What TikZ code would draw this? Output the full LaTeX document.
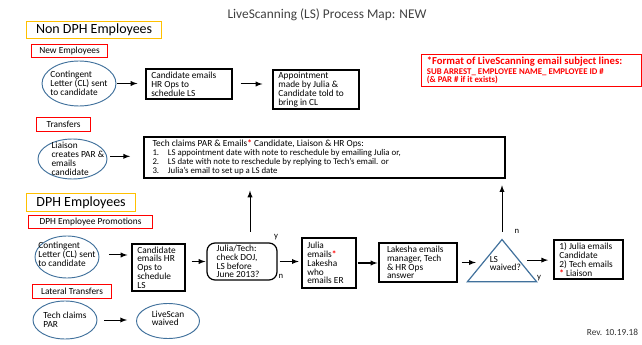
\documentclass[tikz,border=0pt]{standalone}
\usepackage{fontspec}
\setmainfont{Carlito}
\usepackage{xcolor}
\usetikzlibrary{arrows.meta, calc, shapes.geometric}
\definecolor{ovalBlue}{RGB}{65,113,156}
\definecolor{tagRed}{RGB}{255,0,0}
\definecolor{headGold}{RGB}{255,192,0}
\newcommand{\rstar}{\textcolor{tagRed}{\textbf{*}}}

\tikzset{
  txt/.style={font=\fontsize{7}{6.6}\selectfont, align=flush left},
  box/.style={draw, line width=0.9pt, txt, inner xsep=4pt, inner ysep=1pt},
  oval/.style={draw=ovalBlue, ellipse, line width=0.7pt, inner sep=0pt},
  tagbox/.style={draw=tagRed, line width=0.8pt, txt, inner xsep=4pt, inner ysep=0pt, anchor=north west},
  headbox/.style={draw=headGold, line width=0.9pt, font=\fontsize{10.5}{12}\selectfont, inner xsep=4pt, inner ysep=0pt, anchor=north west},
  arr/.style={-latex, line width=0.75pt},
  yn/.style={font=\fontsize{6.5}{7}\selectfont, inner sep=0pt},
}

\begin{document}
\begin{tikzpicture}[x=0.75pt, y=-0.75pt]
  \useasboundingbox (0,0) rectangle (642,345);

  \node[font=\fontsize{10}{11}\selectfont, text=black!75] (title) at (327,15) {LiveScanning (LS) Process Map: NEW};

  % Non DPH Employees
  \node[headbox, minimum width=101.25pt, minimum height=12.75pt] (nondph) at (26,21) {Non DPH Employees};
  \node[tagbox, minimum width=57pt, minimum height=9.75pt] (newemp) at (31,44) {New Employees};
  \node[oval, minimum width=55.5pt, minimum height=33.75pt,
    label={[txt]center:{Contingent\\Letter (CL) sent\\to candidate}}] (cl1) at (79,83.5) {};
  \node[box, minimum width=64.5pt, minimum height=22.5pt, text width=56.5pt] (cand1) at (189,84) {Candidate emails\\HR Ops to\\schedule LS};
  \node[box, minimum width=64.5pt, minimum height=29.25pt, text width=56.5pt] (appt) at (316,89.5) {Appointment\\made by Julia \&\\Candidate told to\\bring in CL};

  \node[draw=tagRed, line width=0.8pt, text=tagRed, align=flush left, anchor=north west, inner xsep=4pt, inner ysep=1pt,
    font=\fontsize{6.6}{6.2}\selectfont\bfseries,
    minimum width=165pt, minimum height=24pt, text width=157pt] (note) at (421,54)
    {{\fontsize{8}{8.5}\selectfont *Format of LiveScanning email subject lines:}\\[1.2pt]
     SUB ARREST\_ EMPLOYEE NAME\_ EMPLOYEE ID \#\\(\& PAR \# if it exists)};

  \node[tagbox, minimum width=40.5pt, minimum height=10.5pt] (trans) at (36,117) {Transfers};
  \node[oval, minimum width=51.75pt, minimum height=30pt,
    label={[txt, xshift=4pt]center:{Liaison\\creates PAR \&\\emails\\candidate}}] (liaison) at (72.5,159) {};
  \node[box, minimum width=270.75pt, minimum height=30.75pt, inner xsep=6pt, text width=258pt] (tech) at (324.5,157.5)
    {Tech claims PAR \& Emails\rstar{} Candidate, Liaison \& HR Ops:\\
     {\fontsize{6.6}{6.6}\selectfont
     \makebox[11.5pt][l]{1.}LS appointment date with note to reschedule by emailing Julia or,\\
     \makebox[11.5pt][l]{2.}LS date with note to reschedule by replying to Tech’s email. or\\
     \makebox[11.5pt][l]{3.}Julia’s email to set up a LS date}};

  % DPH Employees
  \node[headbox, minimum width=81.75pt, minimum height=13.5pt] (dph) at (26,193) {DPH Employees};
  \node[tagbox, minimum width=93pt, minimum height=9.75pt] (promo) at (28,215) {DPH Employee Promotions};
  \node[oval, minimum width=48pt, minimum height=31.5pt,
    label={[txt, yshift=2pt]center:{Contingent\\Letter (CL) sent\\to candidate}}] (cl2) at (67,257) {};
  \node[box, minimum width=39.75pt, minimum height=35.25pt, text width=31.75pt] (cand2) at (158.5,267.5) {Candidate\\emails HR\\Ops to\\schedule\\LS};
  \node[box, rounded corners=6pt, minimum width=52.5pt, minimum height=27.75pt, inner xsep=7pt, text width=38pt] (jt) at (242,261.5) {Julia/Tech:\\check DOJ,\\LS before\\June 2013?};
  \node[box, minimum width=40.5pt, minimum height=37.5pt, text width=32.5pt] (je) at (329,263) {Julia\\emails\rstar\\Lakesha\\who\\emails ER};
  \node[box, minimum width=58.5pt, minimum height=29.25pt, inner xsep=6pt, text width=46.5pt] (lak) at (418,262.5) {Lakesha emails\\manager, Tech\\\& HR Ops\\answer};
  \node[draw=ovalBlue, line width=0.9pt, isosceles triangle, shape border rotate=90, isosceles triangle stretches,
    minimum width=52pt, minimum height=31.7pt, inner sep=0pt, anchor=apex,
    label={[txt, xshift=2.5pt, yshift=1.5pt]center:{LS\\waived?}}] (waived) at (502,238) {};
  \node[box, minimum width=51.75pt, minimum height=29.25pt, text width=43.75pt] (fin) at (588.5,259.5) {1) Julia emails\\Candidate\\2) Tech emails\\\rstar{} Liaison};

  \node[tagbox, minimum width=59.25pt, minimum height=10.5pt] (lateral) at (32,284) {Lateral Transfers};
  \node[oval, minimum width=48pt, minimum height=28.5pt,
    label={[txt]center:{Tech claims\\PAR}}] (claims) at (65,320) {};
  \node[oval, minimum width=47.25pt, minimum height=26.25pt,
    label={[txt, yshift=2pt]center:{LiveScan\\waived}}] (lswaived) at (168,321) {};

  \node[yn] (yJT) at (276,237) {y};
  \node[yn] (nJT) at (281,276) {n};
  \node[yn] (nLS) at (517,231) {n};
  \node[yn] (yLS) at (539,278) {y};

  \node[font=\fontsize{7}{8}\selectfont, text=black!80] (rev) at (612.5,332) {Rev. 10.19.18};

  % connectors
  \draw[arr, shorten <=0.75pt, shorten >=6pt] (cl1.east) -- (cl1.east -| cand1.west);
  \draw[arr, shorten <=6pt, shorten >=7.5pt] (cand1.east) -- (cand1.east -| appt.west);
  \draw[arr, shorten <=2pt, shorten >=10pt] ([yshift=2pt]liaison.east) -- ([yshift=2pt]liaison.east -| tech.west);
  \draw[arr, shorten <=7pt, shorten >=3pt] ([yshift=1.5pt]cl2.east) -- ([yshift=1.5pt]cl2.east -| cand2.west);
  \draw[arr, shorten <=4.5pt, shorten >=0.75pt] (jt.west -| cand2.east) -- (jt.west);
  \draw[arr, shorten <=1.5pt, shorten >=2pt] (jt.east) -- (jt.east -| je.west);
  \draw[arr, shorten <=0.75pt, shorten >=0.75pt] (je.east) -- (je.east -| lak.west);
  \draw[arr, shorten <=3pt, shorten >=3pt] (lak.east) -- (lak.east -| waived.west);
  \draw[arr, shorten <=2pt, shorten >=4pt] ([yshift=4pt]waived.east) -- ([yshift=4pt]waived.east -| fin.west);
  \draw[arr, shorten <=5pt, shorten >=6.75pt] (claims.east) -- (claims.east -| lswaived.west);
  \draw[arr, shorten <=8pt, shorten >=9pt] ([xshift=6pt]jt.north) -- ([xshift=6pt]jt.north |- tech.south);
  \draw[arr, shorten <=4.5pt, shorten >=5pt] (waived.apex) -- (waived.apex |- tech.south);

\end{tikzpicture}
\end{document}
